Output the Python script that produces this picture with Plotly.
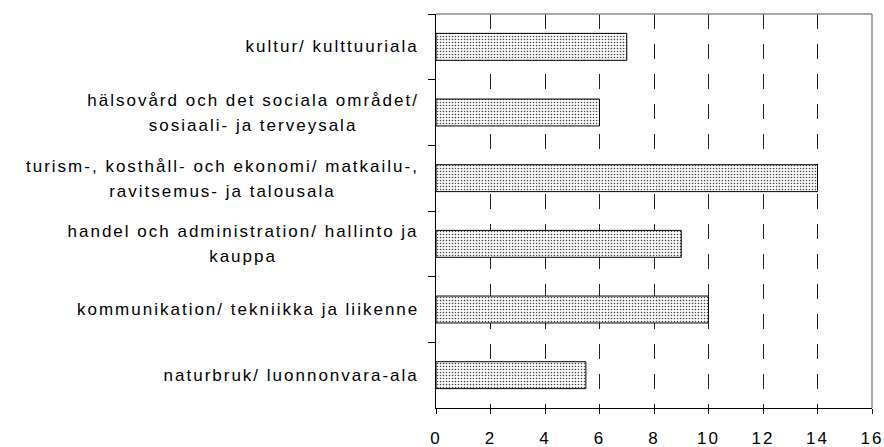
import plotly.graph_objects as go

categories = [
    "kultur/ kulttuuriala",
    "hälsovård och det sociala området/<br>sosiaali- ja terveysala",
    "turism-, kosthåll- och ekonomi/ matkailu-,<br>ravitsemus- ja talousala",
    "handel och administration/ hallinto ja<br>kauppa",
    "kommunikation/ tekniikka ja liikenne",
    "naturbruk/ luonnonvara-ala",
]
values = [7, 6, 14, 9, 10, 5.5]
x_ticks = [0, 2, 4, 6, 8, 10, 12, 14, 16]

FONT = "Liberation Sans, Arial, sans-serif"
FS = 17

fig = go.Figure(
    go.Bar(
        x=values,
        y=categories,
        orientation="h",
        marker=dict(
            color="white",
            line=dict(color="black", width=1),
            pattern=dict(shape=".", fgcolor="#444444", bgcolor="#ffffff",
                         size=3, solidity=0.22),
        ),
        hoverinfo="skip",
    )
)

annotations = [
    dict(x=0, xref="paper", y=cat, yref="y",
         xanchor="right", yanchor="middle", align="center",
         xshift=-15, text=cat, showarrow=False,
         font=dict(family=FONT, size=FS, color="#000"))
    for cat in categories
]

fig.update_layout(
    template="none",
    width=884, height=447,
    margin=dict(l=436, r=12, t=14, b=39, autoexpand=False),
    paper_bgcolor="white", plot_bgcolor="white",
    showlegend=False,
    bargap=0.59,
    annotations=annotations,
    shapes=[
        dict(type="line", xref="paper", yref="paper", x0=0, x1=1, y0=1, y1=1,
             line=dict(color="#8c8c8c", width=1.5), layer="above"),
        dict(type="line", xref="paper", yref="paper", x0=1, x1=1, y0=0, y1=1,
             line=dict(color="#8c8c8c", width=1.5), layer="above"),
    ],
    xaxis=dict(
        range=[0, 16], tickvals=x_ticks, ticktext=[str(v) for v in x_ticks],
        showgrid=True, gridcolor="#222", gridwidth=1, griddash="15px,15px",
        zeroline=False, showline=True, linecolor="black", linewidth=1,
        ticks="outside", ticklen=5, tickcolor="black", tickwidth=1,
        tickfont=dict(family=FONT, size=FS, color="#000"),
        ticklabelstandoff=10, automargin=False,
    ),
    yaxis=dict(
        type="category", categoryorder="array", categoryarray=categories,
        autorange="reversed", showticklabels=False,
        ticks="outside", tickson="boundaries", ticklen=7, tickcolor="black",
        tickwidth=1,
        showline=True, linecolor="black", linewidth=1,
        showgrid=False, zeroline=False, automargin=False,
    ),
)

post = """
document.body.style.margin = '0';
document.body.style.padding = '0';
var gd = document.getElementById('{plot_id}');
var LS = '2px', LH = 25;
gd.querySelectorAll('.xtick text').forEach(function(t){ t.style.letterSpacing = LS; });
gd.querySelectorAll('text.annotation-text').forEach(function(t){
  var b0 = t.getBBox();
  t.style.letterSpacing = LS;
  var lines = t.querySelectorAll('tspan.line');
  lines.forEach(function(s, i){ if (i > 0) { s.setAttribute('dy', LH + 'px'); } });
  var b1 = t.getBBox();
  var dx = (b0.x + b0.width) - (b1.x + b1.width);
  var dy = (b0.y + b0.height / 2) - (b1.y + b1.height / 2);
  t.setAttribute('transform', (t.getAttribute('transform') || '') + ' translate(' + dx + ',' + dy + ')');
});
"""
fig.write_html("out.html", post_script=post,
               config={"displayModeBar": False, "staticPlot": True})
